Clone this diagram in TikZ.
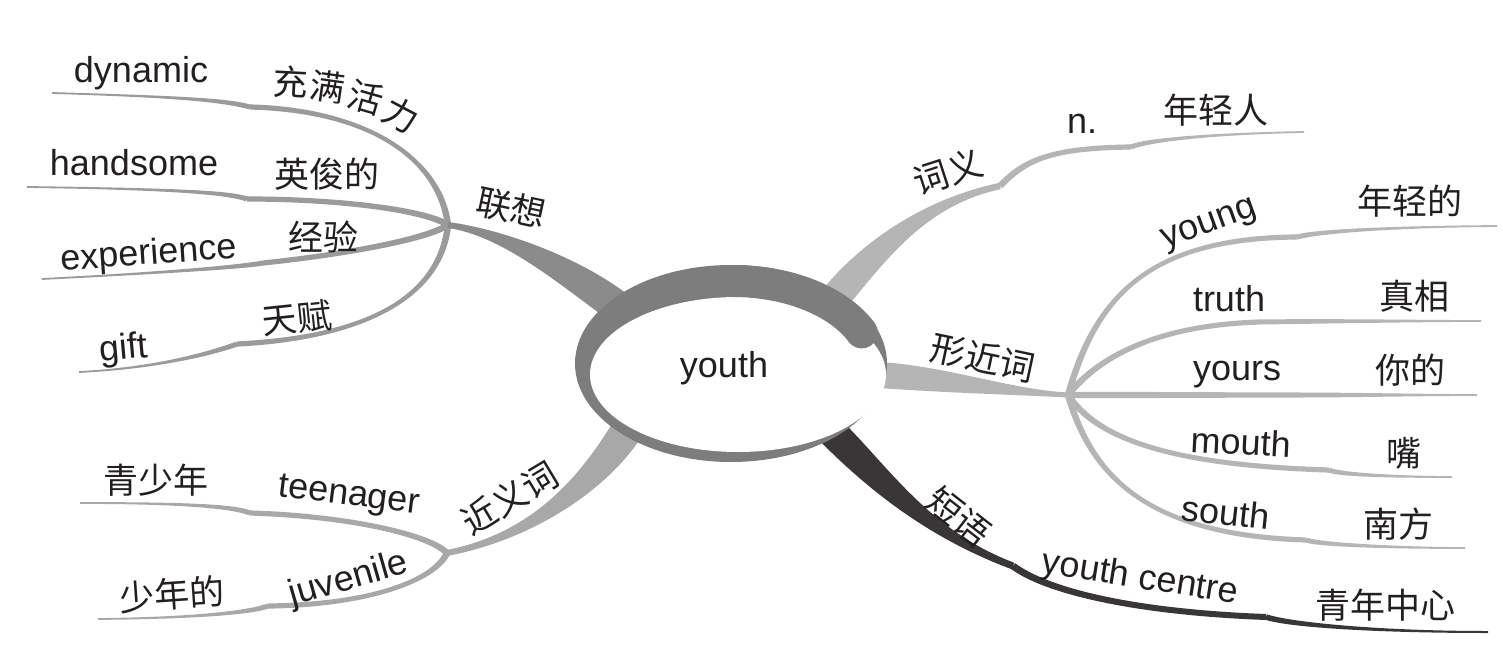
\documentclass[tikz,border=0pt]{standalone}
\usepackage{fontspec}
\usetikzlibrary{calc}
\newfontfamily\enfont{Liberation Sans}
\newfontfamily\zhfont{Noto Sans CJK SC}
\definecolor{ringgray}{HTML}{7D7D7D}
\definecolor{cLXm}{HTML}{8B8B8B}
\definecolor{cLX}{HTML}{9B9B9B}
\definecolor{cJY}{HTML}{A8A8A8}
\definecolor{cXJ}{HTML}{B5B5B5}
\definecolor{cDY}{HTML}{3A3637}
\definecolor{ink}{HTML}{231F20}
% tapered cubic: colour, P0, P1, P2, P3, half width at P0, half width at P3
\newcommand\taper[7]{\fill[#1] ($(#2)!#6!90:(#3)$) .. controls ($(#3)!#6!-90:(#2)$) and ($(#4)!#7!90:(#5)$) .. ($(#5)!#7!-90:(#4)$) -- ($(#5)!#7!90:(#4)$) .. controls ($(#4)!#7!-90:(#5)$) and ($(#3)!#6!90:(#2)$) .. ($(#2)!#6!-90:(#3)$) -- cycle;}
% twig: colour, junction, c1, c2, kink, c3, c4, end
\newcommand\twig[8]{\taper{#1}{#2}{#3}{#4}{#5}{3.2pt}{2.6pt}\taper{#1}{#5}{#6}{#7}{#8}{2.5pt}{0.9pt}}
\begin{document}
\begin{tikzpicture}[x=1pt,y=-1pt,
  en/.style={font=\enfont\fontsize{36}{40}\selectfont, inner sep=0pt, text=ink},
  zh/.style={font=\zhfont\fontsize{35}{40}\selectfont, inner sep=0pt, text=ink}]
\useasboundingbox[fill=white] (0,0) rectangle (1503,671);
% junctions and kinks
\coordinate (jL) at (448,225);
\coordinate (jS) at (447,553);
\coordinate (jX) at (1068,395);
\coordinate (kCY) at (1000,186);
\coordinate (kCY2) at (1131,147);
\coordinate (eCY) at (1304,132);
\coordinate (kDY) at (1013,566);
\coordinate (kDY2) at (1266,617);
\coordinate (eDY) at (1488,632);
% ---- association branch (left top)
\twig{cLX}{jL}{440,160}{370,110}{250,107}{228,101}{190,97}{52,93}
\twig{cLX}{jL}{425,210}{340,199}{247,199}{230,193}{180,189}{27,187}
\twig{cLX}{jL}{425,240}{340,255}{263,263}{248,266}{180,272}{42,279}
\twig{cLX}{jL}{440,300}{360,338}{237,344}{215,352}{160,368}{79,372}
\taper{cLXm}{615,305}{565,268}{500,232}{jL}{16pt}{3pt}
% ---- synonyms (left bottom)
\twig{cJY}{jS}{430,535}{350,516}{250,513}{232,506}{180,503}{80,503}
\twig{cJY}{jS}{435,580}{370,605}{268,606}{252,612}{200,618}{98,619}
\taper{cJY}{630,425}{600,475}{540,535}{jS}{16pt}{3pt}
% ---- meaning (right top)
\taper{cXJ}{835,298}{875,250}{925,202}{kCY}{15pt}{3.2pt}
\taper{cXJ}{kCY}{1025,160}{1050,148}{kCY2}{3.2pt}{2.6pt}
\taper{cXJ}{kCY2}{1145,141}{1200,134}{eCY}{2.5pt}{0.9pt}
% ---- similar forms (right)
\twig{cXJ}{jX}{1095,300}{1145,238}{1297,237}{1315,232}{1380,227}{1497,226}
\twig{cXJ}{jX}{1100,355}{1160,325}{1260,322}{1330,321}{1420,321}{1481,321}
\twig{cXJ}{jX}{1150,395}{1220,395}{1300,395}{1350,395}{1420,395}{1477,395}
\twig{cXJ}{jX}{1095,435}{1160,465}{1329,470}{1340,475}{1400,477}{1452,477}
\twig{cXJ}{jX}{1090,470}{1140,535}{1306,540}{1320,545}{1400,548}{1465,548}
\taper{cXJ}{880,375}{950,380}{1010,392}{jX}{13pt}{2.5pt}
% ---- phrases (right bottom)
\taper{cDY}{832,432}{880,480}{930,535}{kDY}{15pt}{3.5pt}
\taper{cDY}{kDY}{1045,590}{1130,612}{kDY2}{3.5pt}{3pt}
\taper{cDY}{kDY2}{1290,625}{1380,632}{eDY}{2.8pt}{1pt}
% ---- centre ring
\fill[ringgray] (731,363.5) ellipse [x radius=156pt, y radius=98.5pt];
\fill[white] (738,374.5) ellipse [x radius=148pt, y radius=77.5pt];
\draw[ringgray, line width=32pt] (733,281) arc[start angle=90, end angle=25, x radius=142pt, y radius=89pt];
\fill[ringgray] (861.7,332.4) circle (16pt);
% ---- labels
\node[en] (tYouth) at (724,368) {youth};
\node[en] (tDyn) at (141,73) {dynamic};
\node[zh,rotate=-3] (tC1) at (291,82) {充};
\node[zh,rotate=-8] (tC2) at (328,87) {满};
\node[zh,rotate=-16] (tC3) at (366,98) {活};
\node[zh,rotate=-28] (tC4) at (401,115) {力};
\node[en] (tHand) at (134,163) {handsome};
\node[zh] (tYing) at (327,174) {英俊的};
\node[en,rotate=4] (tExp) at (149,255) {experience};
\node[zh] (tJing) at (323,237) {经验};
\node[zh,rotate=6] (tTian) at (297,318) {天赋};
\node[en,rotate=5] (tGift) at (124,350) {gift};
\node[zh,rotate=-12] (tLX) at (511,208) {联想};
\node[zh] (tQSN) at (156,480) {青少年};
\node[en,rotate=-7] (tTeen) at (349,497) {teenager};
\node[zh,rotate=4] (tSND) at (172,594) {少年的};
\node[en,rotate=16] (tJuv) at (349,580) {juvenile};
\node[zh,rotate=31] (tJYC) at (510,498) {近义词};
\node[zh,rotate=18] (tCY) at (948,172) {词义};
\node[en,anchor=base] (tN) at (1082,134) {n.};
\node[zh] (tNQR) at (1216,110) {年轻人};
\node[en,rotate=20] (tYoung) at (1210,226) {young};
\node[zh] (tNQD) at (1410,201) {年轻的};
\node[en] (tTruth) at (1229,299) {truth};
\node[zh] (tZX) at (1414,296) {真相};
\node[en] (tYours) at (1237,375) {yours};
\node[zh] (tND) at (1410,370) {你的};
\node[en,rotate=-3] (tMouth) at (1241,442) {mouth};
\node[zh] (tZui) at (1404,453) {嘴};
\node[en,rotate=-6] (tSouth) at (1226,512) {south};
\node[zh] (tNF) at (1398,524) {南方};
\node[zh,rotate=-12] (tXJC) at (983,358) {形近词};
\node[zh,rotate=-38] (tDY) at (959,517) {短语};
\node[en,rotate=-9] (tYC) at (1140,579) {youth centre};
\node[zh] (tQNZX) at (1385,605) {青年中心};
\end{tikzpicture}
\end{document}
